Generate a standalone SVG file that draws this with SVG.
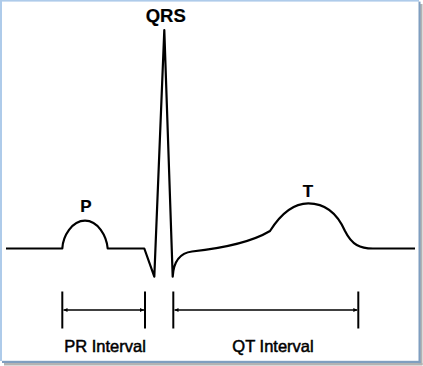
<svg xmlns="http://www.w3.org/2000/svg" width="423" height="366" viewBox="0 0 423 366">
<style>
.trace{fill:none;stroke:#000;stroke-width:2.2;stroke-linejoin:round;stroke-linecap:butt}
.tick{stroke:#000;stroke-width:2}
.dim{stroke:#000;stroke-width:1.6;fill:none}
.lbl{font-family:"Liberation Sans",Arial,sans-serif;fill:#000;stroke:#000;stroke-width:0.5;text-anchor:middle}
.wave{font-weight:bold;stroke-width:0.2}
</style>
<defs>
<marker id="ah" viewBox="0 0 6 6" refX="6" refY="3" markerWidth="4" markerHeight="4" orient="auto-start-reverse" markerUnits="userSpaceOnUse">
<path d="M0,0 L6,3 L0,6 Z" fill="#000"/>
</marker>
</defs>
<rect width="423" height="366" fill="#fff"/>
<g id="frame">
<rect x="420" y="4" width="2.5" height="361" fill="#b3b3b3"/>
<rect x="4" y="363" width="418.5" height="2.5" fill="#b3b3b3"/>
<rect x="0" y="0" width="419" height="1.6" fill="#aecbea"/>
<rect x="0" y="0" width="2" height="361" fill="#aecbea"/>
<rect x="418.5" y="1.6" width="2" height="361.5" fill="#7f9ec0"/>
<rect x="2" y="360.8" width="418.5" height="2.2" fill="#7f9ec0"/>
</g>
<g id="ecg">
<path class="trace" d="M6,248.5 H62.3 C63,236 72,220.7 85,220.7 C98,220.7 106.5,236 107.7,248.5 H144.3 L154.3,276.7 L164.3,30 L172.7,276.7 C173.5,262 180,253 192,251.5 C215,249 250,243 270,231 C280,215 292,203.3 308.3,203.3 C326,203.3 338,215 345,231 C352,245 360,248.5 373,248.5 H415"/>
</g>
<g id="label-qrs"><text class="lbl wave" x="165.7" y="21.5" font-size="18.5">QRS</text></g>
<g id="label-p"><text class="lbl wave" x="86" y="211.7" font-size="17">P</text></g>
<g id="label-t"><text class="lbl wave" x="308" y="197.3" font-size="17">T</text></g>
<g id="connectors">
<g id="pr-interval">
<line class="tick" x1="62.3" y1="291.5" x2="62.3" y2="328.5"/>
<line class="tick" x1="145" y1="291.5" x2="145" y2="328.5"/>
<line class="dim" x1="63.5" y1="310" x2="144" y2="310" marker-start="url(#ah)" marker-end="url(#ah)"/>
</g>
<g id="qt-interval">
<line class="tick" x1="173.3" y1="291.5" x2="173.3" y2="328.5"/>
<line class="tick" x1="358.3" y1="291.5" x2="358.3" y2="328.5"/>
<line class="dim" x1="174.5" y1="310" x2="357.3" y2="310" marker-start="url(#ah)" marker-end="url(#ah)"/>
</g>
</g>
<g id="label-pr"><text class="lbl" x="105" y="351.7" font-size="16.5">PR Interval</text></g>
<g id="label-qt"><text class="lbl" x="273" y="351.7" font-size="16.5">QT Interval</text></g>
</svg>
